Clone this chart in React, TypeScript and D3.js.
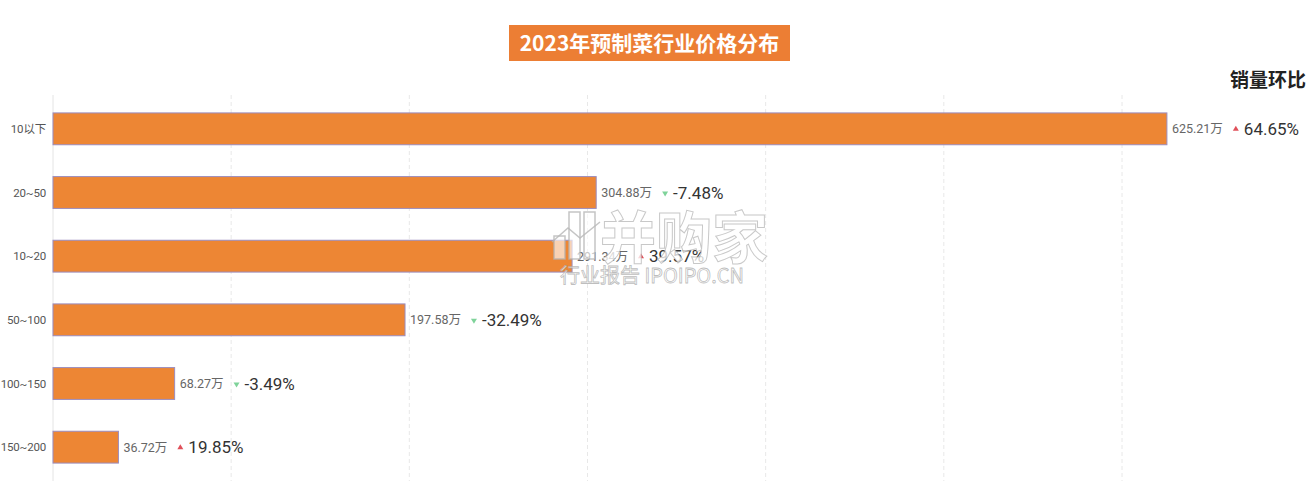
import * as d3 from 'd3';
import React, { useEffect } from 'react';

// 价格区间 (元) 与销量 (万) / 环比
const categories = ['10以下', '20~50', '10~20', '50~100', '100~150', '150~200'];
const sales = [625.21, 304.88, 291.34, 197.58, 68.27, 36.72];
const salesLabels = ['625.21万', '304.88万', '291.34万', '197.58万', '68.27万', '36.72万'];
const momChange = [64.65, -7.48, 39.57, -32.49, -3.49, 19.85];
const momLabels = ['64.65%', '-7.48%', '39.57%', '-32.49%', '-3.49%', '19.85%'];
const xTicks = [0, 100, 200, 300, 400, 500, 600];

const W = 1315;
const H = 490;
const ORANGE = '#ED8634';

export default function App() {
  const ref = React.useRef<SVGSVGElement>(null);

  useEffect(() => {
    if (!ref.current) return;
    const svg = d3.select(ref.current);
    svg.selectAll('*').remove();

    const x = d3.scaleLinear().domain([0, 600]).range([53, 1122]);
    const y = d3
      .scaleBand<string>()
      .domain(categories)
      .range([97, 479])
      .paddingInner(0.5)
      .paddingOuter(0.25);

    svg.append('rect').attr('width', W).attr('height', H).attr('fill', '#fff');

    // title box
    const title = svg.append('g');
    title
      .append('rect')
      .attr('x', 509)
      .attr('y', 25)
      .attr('width', 281)
      .attr('height', 36)
      .attr('fill', '#EC7E34');
    title
      .append('text')
      .attr('x', 649.5)
      .attr('y', 50.5)
      .attr('text-anchor', 'middle')
      .attr('font-family', '"Noto Sans CJK SC", sans-serif')
      .attr('font-weight', 700)
      .attr('font-size', 21)
      .attr('fill', '#fff')
      .text('2023年预制菜行业价格分布');

    svg
      .append('text')
      .attr('x', 1306)
      .attr('y', 87)
      .attr('text-anchor', 'end')
      .attr('font-family', '"Noto Sans CJK SC", sans-serif')
      .attr('font-weight', 700)
      .attr('font-size', 19)
      .attr('fill', '#222')
      .text('销量环比');

    // grid
    svg
      .append('g')
      .selectAll('line')
      .data(xTicks.slice(1))
      .enter()
      .append('line')
      .attr('x1', d => x(d))
      .attr('x2', d => x(d))
      .attr('y1', 95)
      .attr('y2', 481)
      .attr('stroke', '#e8e8e8')
      .attr('stroke-dasharray', '4,3');
    svg
      .append('line')
      .attr('x1', x(0))
      .attr('x2', x(0))
      .attr('y1', 95)
      .attr('y2', 481)
      .attr('stroke', '#e4e4e4');

    // category labels
    svg
      .append('g')
      .selectAll('text')
      .data(categories)
      .enter()
      .append('text')
      .attr('x', 46)
      .attr('y', d => (y(d) ?? 0) + y.bandwidth() / 2)
      .attr('dy', '0.35em')
      .attr('text-anchor', 'end')
      .attr('font-family', 'Roboto, "Noto Sans CJK SC", sans-serif')
      .attr('font-size', 11.5)
      .attr('letter-spacing', -0.2)
      .attr('fill', '#555')
      .text(d => d);

    // bars
    svg
      .append('g')
      .selectAll('rect')
      .data(categories)
      .enter()
      .append('rect')
      .attr('x', x(0))
      .attr('y', d => y(d) ?? 0)
      .attr('width', (d, i) => x(sales[i]) - x(0))
      .attr('height', y.bandwidth())
      .attr('fill', ORANGE)
      .attr('stroke', '#9a8cbf')
      .attr('stroke-width', 1);

    // value labels + 环比
    categories.forEach((c, i) => {
      const cy = (y(c) ?? 0) + y.bandwidth() / 2;
      const vx = x(sales[i]) + 5;
      const t = svg
        .append('text')
        .attr('x', vx)
        .attr('y', cy)
        .attr('dy', '0.35em')
        .attr('font-family', 'Roboto, "Noto Sans CJK SC", sans-serif')
        .attr('font-size', 12.5)
        .attr('fill', '#666')
        .text(salesLabels[i]);
      const len = (t.node() as SVGTextElement).getComputedTextLength();
      const tx = vx + len + 13;
      const up = momChange[i] >= 0;
      const s = 3;
      svg
        .append('path')
        .attr(
          'd',
          up
            ? `M${tx - s},${cy + 2} L${tx + s},${cy + 2} L${tx},${cy - 3} Z`
            : `M${tx - s},${cy - 1} L${tx + s},${cy - 1} L${tx},${cy + 4} Z`
        )
        .attr('fill', up ? '#e0505a' : '#7fd39a');
      svg
        .append('text')
        .attr('x', tx + 8)
        .attr('y', cy)
        .attr('dy', '0.36em')
        .attr('font-family', 'Roboto, sans-serif')
        .attr('font-size', 17)
        .attr('fill', '#333')
        .text(momLabels[i]);
    });

    // watermark
    const wm = svg.append('g').attr('opacity', 0.9);
    wm.append('text')
      .attr('x', 600)
      .attr('y', 258)
      .attr('font-family', '"Noto Sans CJK SC", sans-serif')
      .attr('font-weight', 700)
      .attr('font-size', 56)
      .attr('fill', 'rgba(255,255,255,0.85)')
      .attr('stroke', 'rgba(170,170,170,0.7)')
      .attr('stroke-width', 1)
      .text('并购家');
    const icon = wm
      .append('g')
      .attr('fill', 'none')
      .attr('stroke', 'rgba(180,180,180,0.85)')
      .attr('stroke-width', 1.5);
    [[554, 236, 11], [569, 212, 11], [584, 212, 11]].forEach(([ix, iy, iw]) => {
      icon
        .append('rect')
        .attr('x', ix)
        .attr('y', iy)
        .attr('width', iw)
        .attr('height', 259 - iy)
        .attr('fill', 'rgba(255,255,255,0.7)');
    });
    icon.append('path').attr('d', 'M552,242 L568,228 L580,238 L600,222');
    wm.append('text')
      .attr('x', 560)
      .attr('y', 283)
      .attr('font-family', '"Noto Sans CJK SC", sans-serif')
      .attr('font-size', 20)
      .attr('fill', 'rgba(255,255,255,0.8)')
      .attr('stroke', 'rgba(160,160,160,0.75)')
      .attr('stroke-width', 0.8)
      .text('行业报告 IPOIPO.CN');
  }, []);

  return (
    <div style={{ position: 'absolute', left: 0, top: 0 }}>
      <svg ref={ref} width={W} height={H} style={{ display: 'block' }} />
    </div>
  );
}
